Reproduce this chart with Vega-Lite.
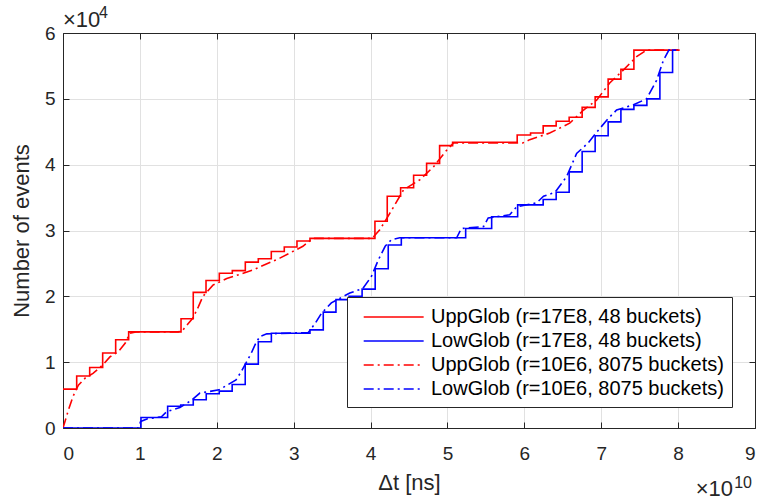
{
  "$schema": "https://vega.github.io/schema/vega-lite/v6.json",
  "width": 692,
  "height": 395,
  "autosize": "none",
  "padding": {"left": 63, "top": 33, "right": 7, "bottom": 72},
  "background": "white",
  "config": {
    "view": {"stroke": null},
    "font": "Liberation Sans",
    "axis": {
      "domainColor": "#262626",
      "domainWidth": 1,
      "tickColor": "#262626",
      "labelColor": "#262626",
      "titleColor": "#262626",
      "labelFont": "Liberation Sans",
      "titleFont": "Liberation Sans",
      "labelFontSize": 19,
      "titleFontSize": 22,
      "titleFontWeight": "normal",
      "gridColor": "#e1e1e1",
      "gridWidth": 1,
      "tickSize": -6
    },
    "legend": {
      "labelFont": "Liberation Sans",
      "labelFontSize": 20,
      "labelColor": "#000000",
      "labelLimit": 500,
      "strokeColor": "#262626",
      "fillColor": "white",
      "padding": 8,
      "rowPadding": 2,
      "symbolType": "M-0.3,0H5.15",
      "symbolSize": 484,
      "symbolStrokeWidth": 1.6,
      "labelOffset": 52
    }
  },
  "datasets": {
    "steps": [
      {"series": "UppGlob (r=17E8, 48 buckets)", "t": 0, "n": 0.59},
      {"series": "UppGlob (r=17E8, 48 buckets)", "t": 0.178, "n": 0.79},
      {"series": "UppGlob (r=17E8, 48 buckets)", "t": 0.347, "n": 0.92},
      {"series": "UppGlob (r=17E8, 48 buckets)", "t": 0.516, "n": 1.14},
      {"series": "UppGlob (r=17E8, 48 buckets)", "t": 0.685, "n": 1.34},
      {"series": "UppGlob (r=17E8, 48 buckets)", "t": 0.854, "n": 1.46},
      {"series": "UppGlob (r=17E8, 48 buckets)", "t": 1.535, "n": 1.66},
      {"series": "UppGlob (r=17E8, 48 buckets)", "t": 1.694, "n": 2.06},
      {"series": "UppGlob (r=17E8, 48 buckets)", "t": 1.86, "n": 2.24},
      {"series": "UppGlob (r=17E8, 48 buckets)", "t": 2.033, "n": 2.35},
      {"series": "UppGlob (r=17E8, 48 buckets)", "t": 2.202, "n": 2.39},
      {"series": "UppGlob (r=17E8, 48 buckets)", "t": 2.371, "n": 2.52},
      {"series": "UppGlob (r=17E8, 48 buckets)", "t": 2.54, "n": 2.57},
      {"series": "UppGlob (r=17E8, 48 buckets)", "t": 2.709, "n": 2.68},
      {"series": "UppGlob (r=17E8, 48 buckets)", "t": 2.878, "n": 2.75},
      {"series": "UppGlob (r=17E8, 48 buckets)", "t": 3.043, "n": 2.84},
      {"series": "UppGlob (r=17E8, 48 buckets)", "t": 3.212, "n": 2.88},
      {"series": "UppGlob (r=17E8, 48 buckets)", "t": 4.057, "n": 3.14},
      {"series": "UppGlob (r=17E8, 48 buckets)", "t": 4.217, "n": 3.52},
      {"series": "UppGlob (r=17E8, 48 buckets)", "t": 4.391, "n": 3.65},
      {"series": "UppGlob (r=17E8, 48 buckets)", "t": 4.56, "n": 3.84},
      {"series": "UppGlob (r=17E8, 48 buckets)", "t": 4.729, "n": 4.02},
      {"series": "UppGlob (r=17E8, 48 buckets)", "t": 4.898, "n": 4.29},
      {"series": "UppGlob (r=17E8, 48 buckets)", "t": 5.067, "n": 4.34},
      {"series": "UppGlob (r=17E8, 48 buckets)", "t": 5.907, "n": 4.45},
      {"series": "UppGlob (r=17E8, 48 buckets)", "t": 6.081, "n": 4.48},
      {"series": "UppGlob (r=17E8, 48 buckets)", "t": 6.245, "n": 4.59},
      {"series": "UppGlob (r=17E8, 48 buckets)", "t": 6.414, "n": 4.66},
      {"series": "UppGlob (r=17E8, 48 buckets)", "t": 6.583, "n": 4.72},
      {"series": "UppGlob (r=17E8, 48 buckets)", "t": 6.752, "n": 4.87},
      {"series": "UppGlob (r=17E8, 48 buckets)", "t": 6.921, "n": 5.03},
      {"series": "UppGlob (r=17E8, 48 buckets)", "t": 7.09, "n": 5.30},
      {"series": "UppGlob (r=17E8, 48 buckets)", "t": 7.256, "n": 5.45},
      {"series": "UppGlob (r=17E8, 48 buckets)", "t": 7.425, "n": 5.74},
      {"series": "UppGlob (r=17E8, 48 buckets)", "t": 8.0, "n": 5.74},
      {"series": "LowGlob (r=17E8, 48 buckets)", "t": 0, "n": 0},
      {"series": "LowGlob (r=17E8, 48 buckets)", "t": 1.014, "n": 0.16},
      {"series": "LowGlob (r=17E8, 48 buckets)", "t": 1.361, "n": 0.33},
      {"series": "LowGlob (r=17E8, 48 buckets)", "t": 1.531, "n": 0.35},
      {"series": "LowGlob (r=17E8, 48 buckets)", "t": 1.694, "n": 0.43},
      {"series": "LowGlob (r=17E8, 48 buckets)", "t": 1.863, "n": 0.52},
      {"series": "LowGlob (r=17E8, 48 buckets)", "t": 2.032, "n": 0.56},
      {"series": "LowGlob (r=17E8, 48 buckets)", "t": 2.2, "n": 0.66},
      {"series": "LowGlob (r=17E8, 48 buckets)", "t": 2.37, "n": 0.97},
      {"series": "LowGlob (r=17E8, 48 buckets)", "t": 2.54, "n": 1.31},
      {"series": "LowGlob (r=17E8, 48 buckets)", "t": 2.71, "n": 1.44},
      {"series": "LowGlob (r=17E8, 48 buckets)", "t": 3.212, "n": 1.49},
      {"series": "LowGlob (r=17E8, 48 buckets)", "t": 3.385, "n": 1.76},
      {"series": "LowGlob (r=17E8, 48 buckets)", "t": 3.55, "n": 1.95},
      {"series": "LowGlob (r=17E8, 48 buckets)", "t": 3.72, "n": 2.0},
      {"series": "LowGlob (r=17E8, 48 buckets)", "t": 3.89, "n": 2.11},
      {"series": "LowGlob (r=17E8, 48 buckets)", "t": 4.06, "n": 2.42},
      {"series": "LowGlob (r=17E8, 48 buckets)", "t": 4.23, "n": 2.78},
      {"series": "LowGlob (r=17E8, 48 buckets)", "t": 4.4, "n": 2.89},
      {"series": "LowGlob (r=17E8, 48 buckets)", "t": 5.237, "n": 3.03},
      {"series": "LowGlob (r=17E8, 48 buckets)", "t": 5.575, "n": 3.21},
      {"series": "LowGlob (r=17E8, 48 buckets)", "t": 5.913, "n": 3.39},
      {"series": "LowGlob (r=17E8, 48 buckets)", "t": 6.245, "n": 3.47},
      {"series": "LowGlob (r=17E8, 48 buckets)", "t": 6.414, "n": 3.58},
      {"series": "LowGlob (r=17E8, 48 buckets)", "t": 6.583, "n": 3.89},
      {"series": "LowGlob (r=17E8, 48 buckets)", "t": 6.752, "n": 4.20},
      {"series": "LowGlob (r=17E8, 48 buckets)", "t": 6.921, "n": 4.44},
      {"series": "LowGlob (r=17E8, 48 buckets)", "t": 7.09, "n": 4.65},
      {"series": "LowGlob (r=17E8, 48 buckets)", "t": 7.256, "n": 4.84},
      {"series": "LowGlob (r=17E8, 48 buckets)", "t": 7.425, "n": 4.90},
      {"series": "LowGlob (r=17E8, 48 buckets)", "t": 7.594, "n": 5.0},
      {"series": "LowGlob (r=17E8, 48 buckets)", "t": 7.763, "n": 5.40},
      {"series": "LowGlob (r=17E8, 48 buckets)", "t": 7.928, "n": 5.74},
      {"series": "LowGlob (r=17E8, 48 buckets)", "t": 8.0, "n": 5.74}
    ],
    "fine": [
      {"series": "UppGlob (r=10E6, 8075 buckets)", "t": 0, "n": 0},
      {"series": "UppGlob (r=10E6, 8075 buckets)", "t": 0.07, "n": 0.27},
      {"series": "UppGlob (r=10E6, 8075 buckets)", "t": 0.13, "n": 0.48},
      {"series": "UppGlob (r=10E6, 8075 buckets)", "t": 0.2, "n": 0.65},
      {"series": "UppGlob (r=10E6, 8075 buckets)", "t": 0.29, "n": 0.76},
      {"series": "UppGlob (r=10E6, 8075 buckets)", "t": 0.39, "n": 0.83},
      {"series": "UppGlob (r=10E6, 8075 buckets)", "t": 0.52, "n": 0.96},
      {"series": "UppGlob (r=10E6, 8075 buckets)", "t": 0.61, "n": 1.08},
      {"series": "UppGlob (r=10E6, 8075 buckets)", "t": 0.72, "n": 1.16},
      {"series": "UppGlob (r=10E6, 8075 buckets)", "t": 0.81, "n": 1.29},
      {"series": "UppGlob (r=10E6, 8075 buckets)", "t": 0.87, "n": 1.44},
      {"series": "UppGlob (r=10E6, 8075 buckets)", "t": 0.95, "n": 1.46},
      {"series": "UppGlob (r=10E6, 8075 buckets)", "t": 1.5, "n": 1.46},
      {"series": "UppGlob (r=10E6, 8075 buckets)", "t": 1.56, "n": 1.49},
      {"series": "UppGlob (r=10E6, 8075 buckets)", "t": 1.69, "n": 1.67},
      {"series": "UppGlob (r=10E6, 8075 buckets)", "t": 1.76, "n": 1.84},
      {"series": "UppGlob (r=10E6, 8075 buckets)", "t": 1.82, "n": 2.0},
      {"series": "UppGlob (r=10E6, 8075 buckets)", "t": 1.95, "n": 2.17},
      {"series": "UppGlob (r=10E6, 8075 buckets)", "t": 2.13, "n": 2.27},
      {"series": "UppGlob (r=10E6, 8075 buckets)", "t": 2.47, "n": 2.4},
      {"series": "UppGlob (r=10E6, 8075 buckets)", "t": 2.82, "n": 2.58},
      {"series": "UppGlob (r=10E6, 8075 buckets)", "t": 3.12, "n": 2.76},
      {"series": "UppGlob (r=10E6, 8075 buckets)", "t": 3.25, "n": 2.88},
      {"series": "UppGlob (r=10E6, 8075 buckets)", "t": 4.02, "n": 2.88},
      {"series": "UppGlob (r=10E6, 8075 buckets)", "t": 4.12, "n": 3.01},
      {"series": "UppGlob (r=10E6, 8075 buckets)", "t": 4.25, "n": 3.26},
      {"series": "UppGlob (r=10E6, 8075 buckets)", "t": 4.43, "n": 3.62},
      {"series": "UppGlob (r=10E6, 8075 buckets)", "t": 4.64, "n": 3.77},
      {"series": "UppGlob (r=10E6, 8075 buckets)", "t": 4.82, "n": 3.97},
      {"series": "UppGlob (r=10E6, 8075 buckets)", "t": 4.99, "n": 4.22},
      {"series": "UppGlob (r=10E6, 8075 buckets)", "t": 5.08, "n": 4.33},
      {"series": "UppGlob (r=10E6, 8075 buckets)", "t": 5.98, "n": 4.33},
      {"series": "UppGlob (r=10E6, 8075 buckets)", "t": 6.07, "n": 4.38},
      {"series": "UppGlob (r=10E6, 8075 buckets)", "t": 6.33, "n": 4.48},
      {"series": "UppGlob (r=10E6, 8075 buckets)", "t": 6.59, "n": 4.63},
      {"series": "UppGlob (r=10E6, 8075 buckets)", "t": 6.77, "n": 4.83},
      {"series": "UppGlob (r=10E6, 8075 buckets)", "t": 6.94, "n": 4.98},
      {"series": "UppGlob (r=10E6, 8075 buckets)", "t": 7.11, "n": 5.24},
      {"series": "UppGlob (r=10E6, 8075 buckets)", "t": 7.29, "n": 5.44},
      {"series": "UppGlob (r=10E6, 8075 buckets)", "t": 7.46, "n": 5.64},
      {"series": "UppGlob (r=10E6, 8075 buckets)", "t": 7.59, "n": 5.74},
      {"series": "UppGlob (r=10E6, 8075 buckets)", "t": 8.02, "n": 5.74},
      {"series": "LowGlob (r=10E6, 8075 buckets)", "t": 0, "n": 0},
      {"series": "LowGlob (r=10E6, 8075 buckets)", "t": 0.98, "n": 0},
      {"series": "LowGlob (r=10E6, 8075 buckets)", "t": 1.01, "n": 0.1},
      {"series": "LowGlob (r=10E6, 8075 buckets)", "t": 1.1, "n": 0.14},
      {"series": "LowGlob (r=10E6, 8075 buckets)", "t": 1.28, "n": 0.17},
      {"series": "LowGlob (r=10E6, 8075 buckets)", "t": 1.35, "n": 0.25},
      {"series": "LowGlob (r=10E6, 8075 buckets)", "t": 1.52, "n": 0.31},
      {"series": "LowGlob (r=10E6, 8075 buckets)", "t": 1.67, "n": 0.42},
      {"series": "LowGlob (r=10E6, 8075 buckets)", "t": 1.78, "n": 0.53},
      {"series": "LowGlob (r=10E6, 8075 buckets)", "t": 2.03, "n": 0.58},
      {"series": "LowGlob (r=10E6, 8075 buckets)", "t": 2.25, "n": 0.73},
      {"series": "LowGlob (r=10E6, 8075 buckets)", "t": 2.32, "n": 0.86},
      {"series": "LowGlob (r=10E6, 8075 buckets)", "t": 2.39, "n": 1.01},
      {"series": "LowGlob (r=10E6, 8075 buckets)", "t": 2.45, "n": 1.14},
      {"series": "LowGlob (r=10E6, 8075 buckets)", "t": 2.5, "n": 1.27},
      {"series": "LowGlob (r=10E6, 8075 buckets)", "t": 2.56, "n": 1.39},
      {"series": "LowGlob (r=10E6, 8075 buckets)", "t": 2.65, "n": 1.43},
      {"series": "LowGlob (r=10E6, 8075 buckets)", "t": 3.19, "n": 1.45},
      {"series": "LowGlob (r=10E6, 8075 buckets)", "t": 3.28, "n": 1.59},
      {"series": "LowGlob (r=10E6, 8075 buckets)", "t": 3.36, "n": 1.74},
      {"series": "LowGlob (r=10E6, 8075 buckets)", "t": 3.49, "n": 1.9},
      {"series": "LowGlob (r=10E6, 8075 buckets)", "t": 3.73, "n": 2.05},
      {"series": "LowGlob (r=10E6, 8075 buckets)", "t": 3.9, "n": 2.12},
      {"series": "LowGlob (r=10E6, 8075 buckets)", "t": 4.01, "n": 2.3},
      {"series": "LowGlob (r=10E6, 8075 buckets)", "t": 4.1, "n": 2.55},
      {"series": "LowGlob (r=10E6, 8075 buckets)", "t": 4.19, "n": 2.76},
      {"series": "LowGlob (r=10E6, 8075 buckets)", "t": 4.27, "n": 2.86},
      {"series": "LowGlob (r=10E6, 8075 buckets)", "t": 4.38, "n": 2.89},
      {"series": "LowGlob (r=10E6, 8075 buckets)", "t": 5.12, "n": 2.89},
      {"series": "LowGlob (r=10E6, 8075 buckets)", "t": 5.18, "n": 3.03},
      {"series": "LowGlob (r=10E6, 8075 buckets)", "t": 5.47, "n": 3.06},
      {"series": "LowGlob (r=10E6, 8075 buckets)", "t": 5.53, "n": 3.19},
      {"series": "LowGlob (r=10E6, 8075 buckets)", "t": 5.81, "n": 3.24},
      {"series": "LowGlob (r=10E6, 8075 buckets)", "t": 5.9, "n": 3.36},
      {"series": "LowGlob (r=10E6, 8075 buckets)", "t": 6.16, "n": 3.42},
      {"series": "LowGlob (r=10E6, 8075 buckets)", "t": 6.25, "n": 3.52},
      {"series": "LowGlob (r=10E6, 8075 buckets)", "t": 6.4, "n": 3.58},
      {"series": "LowGlob (r=10E6, 8075 buckets)", "t": 6.55, "n": 3.82},
      {"series": "LowGlob (r=10E6, 8075 buckets)", "t": 6.68, "n": 4.17},
      {"series": "LowGlob (r=10E6, 8075 buckets)", "t": 6.83, "n": 4.33},
      {"series": "LowGlob (r=10E6, 8075 buckets)", "t": 6.96, "n": 4.52},
      {"series": "LowGlob (r=10E6, 8075 buckets)", "t": 7.09, "n": 4.7},
      {"series": "LowGlob (r=10E6, 8075 buckets)", "t": 7.2, "n": 4.83},
      {"series": "LowGlob (r=10E6, 8075 buckets)", "t": 7.42, "n": 4.91},
      {"series": "LowGlob (r=10E6, 8075 buckets)", "t": 7.59, "n": 5.0},
      {"series": "LowGlob (r=10E6, 8075 buckets)", "t": 7.72, "n": 5.28},
      {"series": "LowGlob (r=10E6, 8075 buckets)", "t": 7.81, "n": 5.59},
      {"series": "LowGlob (r=10E6, 8075 buckets)", "t": 7.88, "n": 5.74},
      {"series": "LowGlob (r=10E6, 8075 buckets)", "t": 8.0, "n": 5.74}
    ],
    "noteYBase": [{"label": "×10", "t": 0, "n": 6.094}],
    "noteYExp": [{"label": "4", "t": 0, "n": 6.23}],
    "noteXBase": [{"label": "×10", "t": 9, "n": -1.033}],
    "noteXExp": [{"label": "10", "t": 9, "n": -0.912}]
  },
  "layer": [
    {
      "data": {"name": "steps"},
      "mark": {"type": "line", "interpolate": "step-after", "strokeWidth": 1.6, "clip": true},
      "encoding": {
        "x": {"field": "t", "type": "quantitative", "scale": {"domain": [0, 9], "nice": false, "zero": false},
          "axis": {"orient": "bottom", "title": "Δt [ns]", "values": [0,1,2,3,4,5,6,7,8,9], "grid": true, "labelPadding": 22, "titlePadding": 9}},
        "y": {"field": "n", "type": "quantitative", "scale": {"domain": [0, 6], "nice": false, "zero": false},
          "axis": {"orient": "left", "title": "Number of events", "values": [0,1,2,3,4,5,6], "grid": true, "labelPadding": 14, "titlePadding": 11}},
        "color": {"field": "series", "type": "nominal",
          "scale": {"domain": ["UppGlob (r=17E8, 48 buckets)", "LowGlob (r=17E8, 48 buckets)", "UppGlob (r=10E6, 8075 buckets)", "LowGlob (r=10E6, 8075 buckets)"],
                    "range": ["#ff0000", "#0000ff", "#ff0000", "#0000ff"]},
          "legend": {"title": null, "orient": "none", "legendX": 284, "legendY": 264}},
        "strokeDash": {"field": "series", "type": "nominal",
          "scale": {"domain": ["UppGlob (r=17E8, 48 buckets)", "LowGlob (r=17E8, 48 buckets)", "UppGlob (r=10E6, 8075 buckets)", "LowGlob (r=10E6, 8075 buckets)"],
                    "range": [[1, 0], [1, 0], [10, 4, 2, 4], [10, 4, 2, 4]]},
          "legend": {"title": null, "orient": "none", "legendX": 284, "legendY": 264}}
      }
    },
    {
      "data": {"name": "fine"},
      "mark": {"type": "line", "strokeWidth": 1.6, "clip": true},
      "encoding": {
        "x": {"field": "t", "type": "quantitative", "axis": null},
        "y": {"field": "n", "type": "quantitative", "axis": null},
        "color": {"field": "series", "type": "nominal"},
        "strokeDash": {"field": "series", "type": "nominal"}
      }
    },
    {
      "data": {"name": "steps"},
      "mark": {"type": "point", "opacity": 0},
      "encoding": {
        "x": {"field": "t", "type": "quantitative",
          "axis": {"orient": "top", "title": null, "labels": false, "grid": false, "values": [0,1,2,3,4,5,6,7,8,9]}},
        "y": {"field": "n", "type": "quantitative",
          "axis": {"orient": "right", "title": null, "labels": false, "grid": false, "values": [0,1,2,3,4,5,6]}}
      }
    },
    {
      "data": {"name": "noteYBase"},
      "mark": {"type": "text", "fontSize": 22, "font": "Liberation Sans", "color": "#262626", "baseline": "alphabetic", "align": "left"},
      "encoding": {
        "x": {"field": "t", "type": "quantitative", "axis": null},
        "y": {"field": "n", "type": "quantitative", "axis": null},
        "text": {"field": "label"}
      }
    },
    {
      "data": {"name": "noteYExp"},
      "mark": {"type": "text", "fontSize": 16, "font": "Liberation Sans", "color": "#262626", "baseline": "alphabetic", "align": "left", "dx": 36},
      "encoding": {
        "x": {"field": "t", "type": "quantitative", "axis": null},
        "y": {"field": "n", "type": "quantitative", "axis": null},
        "text": {"field": "label"}
      }
    },
    {
      "data": {"name": "noteXBase"},
      "mark": {"type": "text", "fontSize": 22, "font": "Liberation Sans", "color": "#262626", "baseline": "alphabetic", "align": "right", "dx": -22},
      "encoding": {
        "x": {"field": "t", "type": "quantitative", "axis": null},
        "y": {"field": "n", "type": "quantitative", "axis": null},
        "text": {"field": "label"}
      }
    },
    {
      "data": {"name": "noteXExp"},
      "mark": {"type": "text", "fontSize": 16, "font": "Liberation Sans", "color": "#262626", "baseline": "alphabetic", "align": "right", "dx": -3},
      "encoding": {
        "x": {"field": "t", "type": "quantitative", "axis": null},
        "y": {"field": "n", "type": "quantitative", "axis": null},
        "text": {"field": "label"}
      }
    }
  ],
  "resolve": {"axis": {"x": "independent", "y": "independent"}}
}
